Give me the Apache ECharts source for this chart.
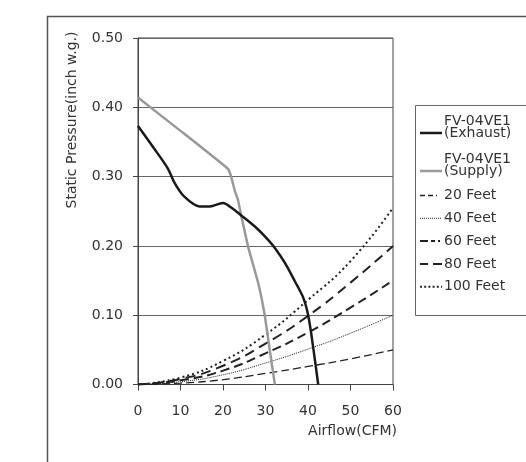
<!DOCTYPE html>
<html><head><meta charset="utf-8">
<script src="https://cdn.jsdelivr.net/npm/echarts@6/dist/echarts.min.js"></script>
<style>html,body{margin:0;padding:0;background:#fff}#c{width:526px;height:462px}</style>
</head><body><div id="c"></div>
<script>
// ---- data ----
const seriesNames = ['FV-04VE1\n(Exhaust)', 'FV-04VE1\n(Supply)', '20 Feet', '40 Feet', '60 Feet', '80 Feet', '100 Feet'];
const xTicks = [0, 10, 20, 30, 40, 50, 60];
const yTicks = [0.00, 0.10, 0.20, 0.30, 0.40, 0.50];

const exhaustX = [0, 3.5, 7.0, 8.6, 10.9, 14.5, 16.9, 20.0, 22.0, 24.3, 27.5, 29.8, 32.2, 34.6, 36.9, 38.9, 40.1, 41.3, 42.4];
const exhaustY = [0.373, 0.343, 0.312, 0.291, 0.271, 0.257, 0.257, 0.262, 0.255, 0.244, 0.228, 0.214, 0.197, 0.175, 0.149, 0.125, 0.098, 0.050, 0.000];

const supplyX = [0, 10, 21.2, 22.0, 22.8, 23.5, 24.3, 25.9, 28.3, 29.8, 31.0, 32.2];
const supplyY = [0.414, 0.366, 0.311, 0.298, 0.279, 0.267, 0.243, 0.199, 0.146, 0.101, 0.050, 0.000];

const ductX = [0, 10, 20, 30, 40, 50, 60];
const feet20 = [0, 0.002, 0.007, 0.016, 0.026, 0.037, 0.050];
const feet40 = [0, 0.004, 0.014, 0.031, 0.051, 0.074, 0.100];
const feet60 = [0, 0.006, 0.020, 0.045, 0.075, 0.111, 0.150];
const feet80 = [0, 0.008, 0.027, 0.059, 0.099, 0.147, 0.200];
const feet100 = [0, 0.010, 0.034, 0.072, 0.122, 0.178, 0.255];

const xName = 'Airflow(CFM)';
const yName = 'Static Pressure(inch w.g.)';

// ---- build ----
const pairs = (xs, ys) => xs.map((x, i) => [x, ys[i]]);
const FONT = '"DejaVu Sans", sans-serif';
const TXT = '#333';

const styles = [
  { color: '#1a1a1a', width: 2.5, type: 'solid', smooth: 0.3, z: 4, icon: null },
  { color: '#999999', width: 2.5, type: 'solid', smooth: 0.1, z: 3, icon: null },
  { color: '#222', width: 1.3, type: [8, 4], smooth: true, z: 2, icon: [5, 3, 5, 3, 1, 9] },
  { color: '#222', width: 1, type: [1, 1], smooth: true, z: 2, icon: [1, 1] },
  { color: '#222', width: 2, type: [9, 5], smooth: true, z: 2, icon: [8, 3, 4, 3, 2, 9] },
  { color: '#222', width: 2, type: [10, 6], smooth: true, z: 2, icon: [8, 5, 9, 9] },
  { color: '#222', width: 2, type: [2, 3], smooth: true, z: 2, icon: [2, 2.2] }
];
const dataSets = [
  pairs(exhaustX, exhaustY), pairs(supplyX, supplyY),
  pairs(ductX, feet20), pairs(ductX, feet40), pairs(ductX, feet60), pairs(ductX, feet80), pairs(ductX, feet100)
];

const series = seriesNames.map((name, i) => ({
  name, type: 'line', data: dataSets[i], symbol: 'none', showSymbol: false,
  smooth: styles[i].smooth, z: styles[i].z,
  lineStyle: { color: styles[i].color, width: styles[i].width, type: styles[i].type },
  itemStyle: { color: styles[i].color },
  emphasis: { disabled: true }
}));

// custom legend (box + line samples + labels), built from seriesNames/styles
const legendGraphics = [
  { type: 'rect', silent: true, shape: { x: 415.5, y: 105.5, width: 130, height: 210 },
    style: { fill: '#fff', stroke: '#666', lineWidth: 1 } }
];
let ly = 133;
seriesNames.forEach((name, i) => {
  const twoLine = name.indexOf('\n') >= 0;
  const st = styles[i];
  legendGraphics.push({
    type: 'line', silent: true, shape: { x1: 420, y1: ly, x2: 442, y2: ly },
    style: { stroke: st.color, lineWidth: st.width, lineDash: st.icon || null }
  });
  legendGraphics.push({
    type: 'text', silent: true, x: 444, y: twoLine ? ly - 5.6 : ly,
    style: { text: name, font: '14px ' + FONT, fill: TXT, align: 'left', verticalAlign: 'middle', lineHeight: 11.4 }
  });
  const next = seriesNames[i + 1];
  if (next !== undefined) {
    ly += next.indexOf('\n') >= 0 ? 38 : (twoLine ? 24.5 : 22.8);
  }
});

const chart = echarts.init(document.getElementById('c'), null, { renderer: 'canvas' });
chart.setOption({
  animation: false,
  backgroundColor: '#fff',
  grid: { left: 138, right: 133, top: 38, bottom: 77.5, show: true, borderColor: '#444', borderWidth: 1 },
  xAxis: {
    type: 'value', min: xTicks[0], max: xTicks[xTicks.length - 1], interval: 10,
    axisLine: { lineStyle: { color: '#444', width: 1 } },
    axisTick: { show: true, length: 6, lineStyle: { color: '#444' } },
    axisLabel: { margin: 20, color: TXT, fontSize: 14, fontFamily: FONT },
    splitLine: { show: false }
  },
  yAxis: {
    type: 'value', min: yTicks[0], max: yTicks[yTicks.length - 1], interval: 0.1,
    axisLine: { show: true, lineStyle: { color: '#444', width: 1 } },
    axisTick: { show: true, length: 5, lineStyle: { color: '#444' } },
    axisLabel: { margin: 15, color: TXT, fontSize: 14, fontFamily: FONT, formatter: v => v.toFixed(2) },
    splitLine: { show: true, lineStyle: { color: '#666', width: 1 } }
  },
  graphic: [
    { type: 'rect', silent: true, z: -1, shape: { x: 47.5, y: 16.5, width: 540, height: 500 },
      style: { fill: 'none', stroke: '#555', lineWidth: 1.5 } },
    { type: 'text', silent: true, x: 72, y: 120, rotation: Math.PI / 2,
      style: { text: yName, font: '14px ' + FONT, fill: TXT, align: 'center', verticalAlign: 'middle' } },
    { type: 'text', silent: true, x: 397, y: 431,
      style: { text: xName, font: '14px ' + FONT, fill: TXT, align: 'right', verticalAlign: 'middle' } },
    { type: 'group', children: legendGraphics }
  ],
  series
});
</script>
</body></html>
